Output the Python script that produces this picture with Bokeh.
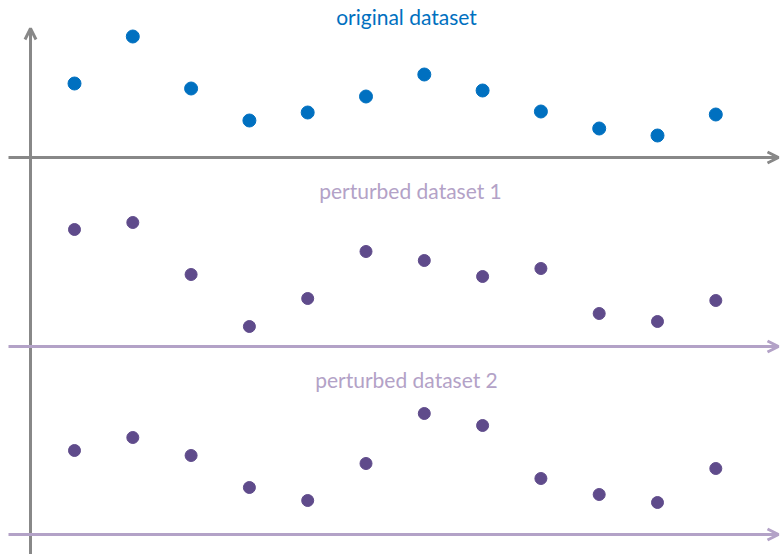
from bokeh.plotting import figure
from bokeh.models import Range1d, Arrow, OpenHead, Label
from bokeh.embed import file_html
from bokeh.resources import INLINE

# ---- data ----
positions = list(range(1, 13))
original = [74, 121, 69, 37, 45, 61, 83, 67, 46, 29, 22, 43]
perturbed1 = [117, 124, 72, 20, 48, 95, 86, 70, 78, 33, 25, 46]
perturbed2 = [84, 97, 79, 47, 34, 71, 121, 109, 56, 40, 32, 66]
titles = ["original dataset", "perturbed dataset 1", "perturbed dataset 2"]

W, H = 780, 554
BLUE = "#0070C0"
DOT_PURPLE = "#5F4B8B"
LINE_PURPLE = "#B3A2C7"
GREY = "#888888"

step = 58.3
first_px = 74
p = figure(width=W, height=H, output_backend="svg", toolbar_location=None,
           x_range=Range1d(1 - first_px / step, 1 + (W - first_px) / step),
           y_range=Range1d(0, H), min_border=0, outline_line_color=None)
p.axis.visible = False
p.grid.visible = False
p.extra_x_ranges = {"px": Range1d(0, W)}

baselines = [157, 346, 534]  # pixel rows from top
names = ["orig", "p1", "p2"]
for nm, b in zip(names, baselines):
    p.extra_y_ranges[nm] = Range1d(-(H - b), b)

# vertical axis
p.add_layout(Arrow(end=OpenHead(size=11, line_color=GREY, line_width=3),
                   x_start=30, y_start=-5, x_end=30, y_end=H - 28,
                   line_color=GREY, line_width=3, x_range_name="px"))
# horizontal axes
for b, col in zip(baselines, [GREY, LINE_PURPLE, LINE_PURPLE]):
    p.add_layout(Arrow(end=OpenHead(size=11, line_color=col, line_width=3),
                       x_start=8, y_start=H - b, x_end=778, y_end=H - b,
                       line_color=col, line_width=3, x_range_name="px"))

# dots
p.scatter(positions, original, size=13, color=BLUE, y_range_name="orig")
p.scatter(positions, perturbed1, size=12, color=DOT_PURPLE, y_range_name="p1")
p.scatter(positions, perturbed2, size=12, color=DOT_PURPLE, y_range_name="p2")

# titles
for t, ypix, col, xc in zip(titles, [16, 190, 379], [BLUE, LINE_PURPLE, LINE_PURPLE], [406, 410, 406]):
    p.add_layout(Label(x=xc, y=H - ypix, text=t, x_range_name="px",
                       text_align="center", text_baseline="middle",
                       text_font="Lato", text_font_size="21px", text_color=col))

open("out.html", "w").write(file_html(p, INLINE))
